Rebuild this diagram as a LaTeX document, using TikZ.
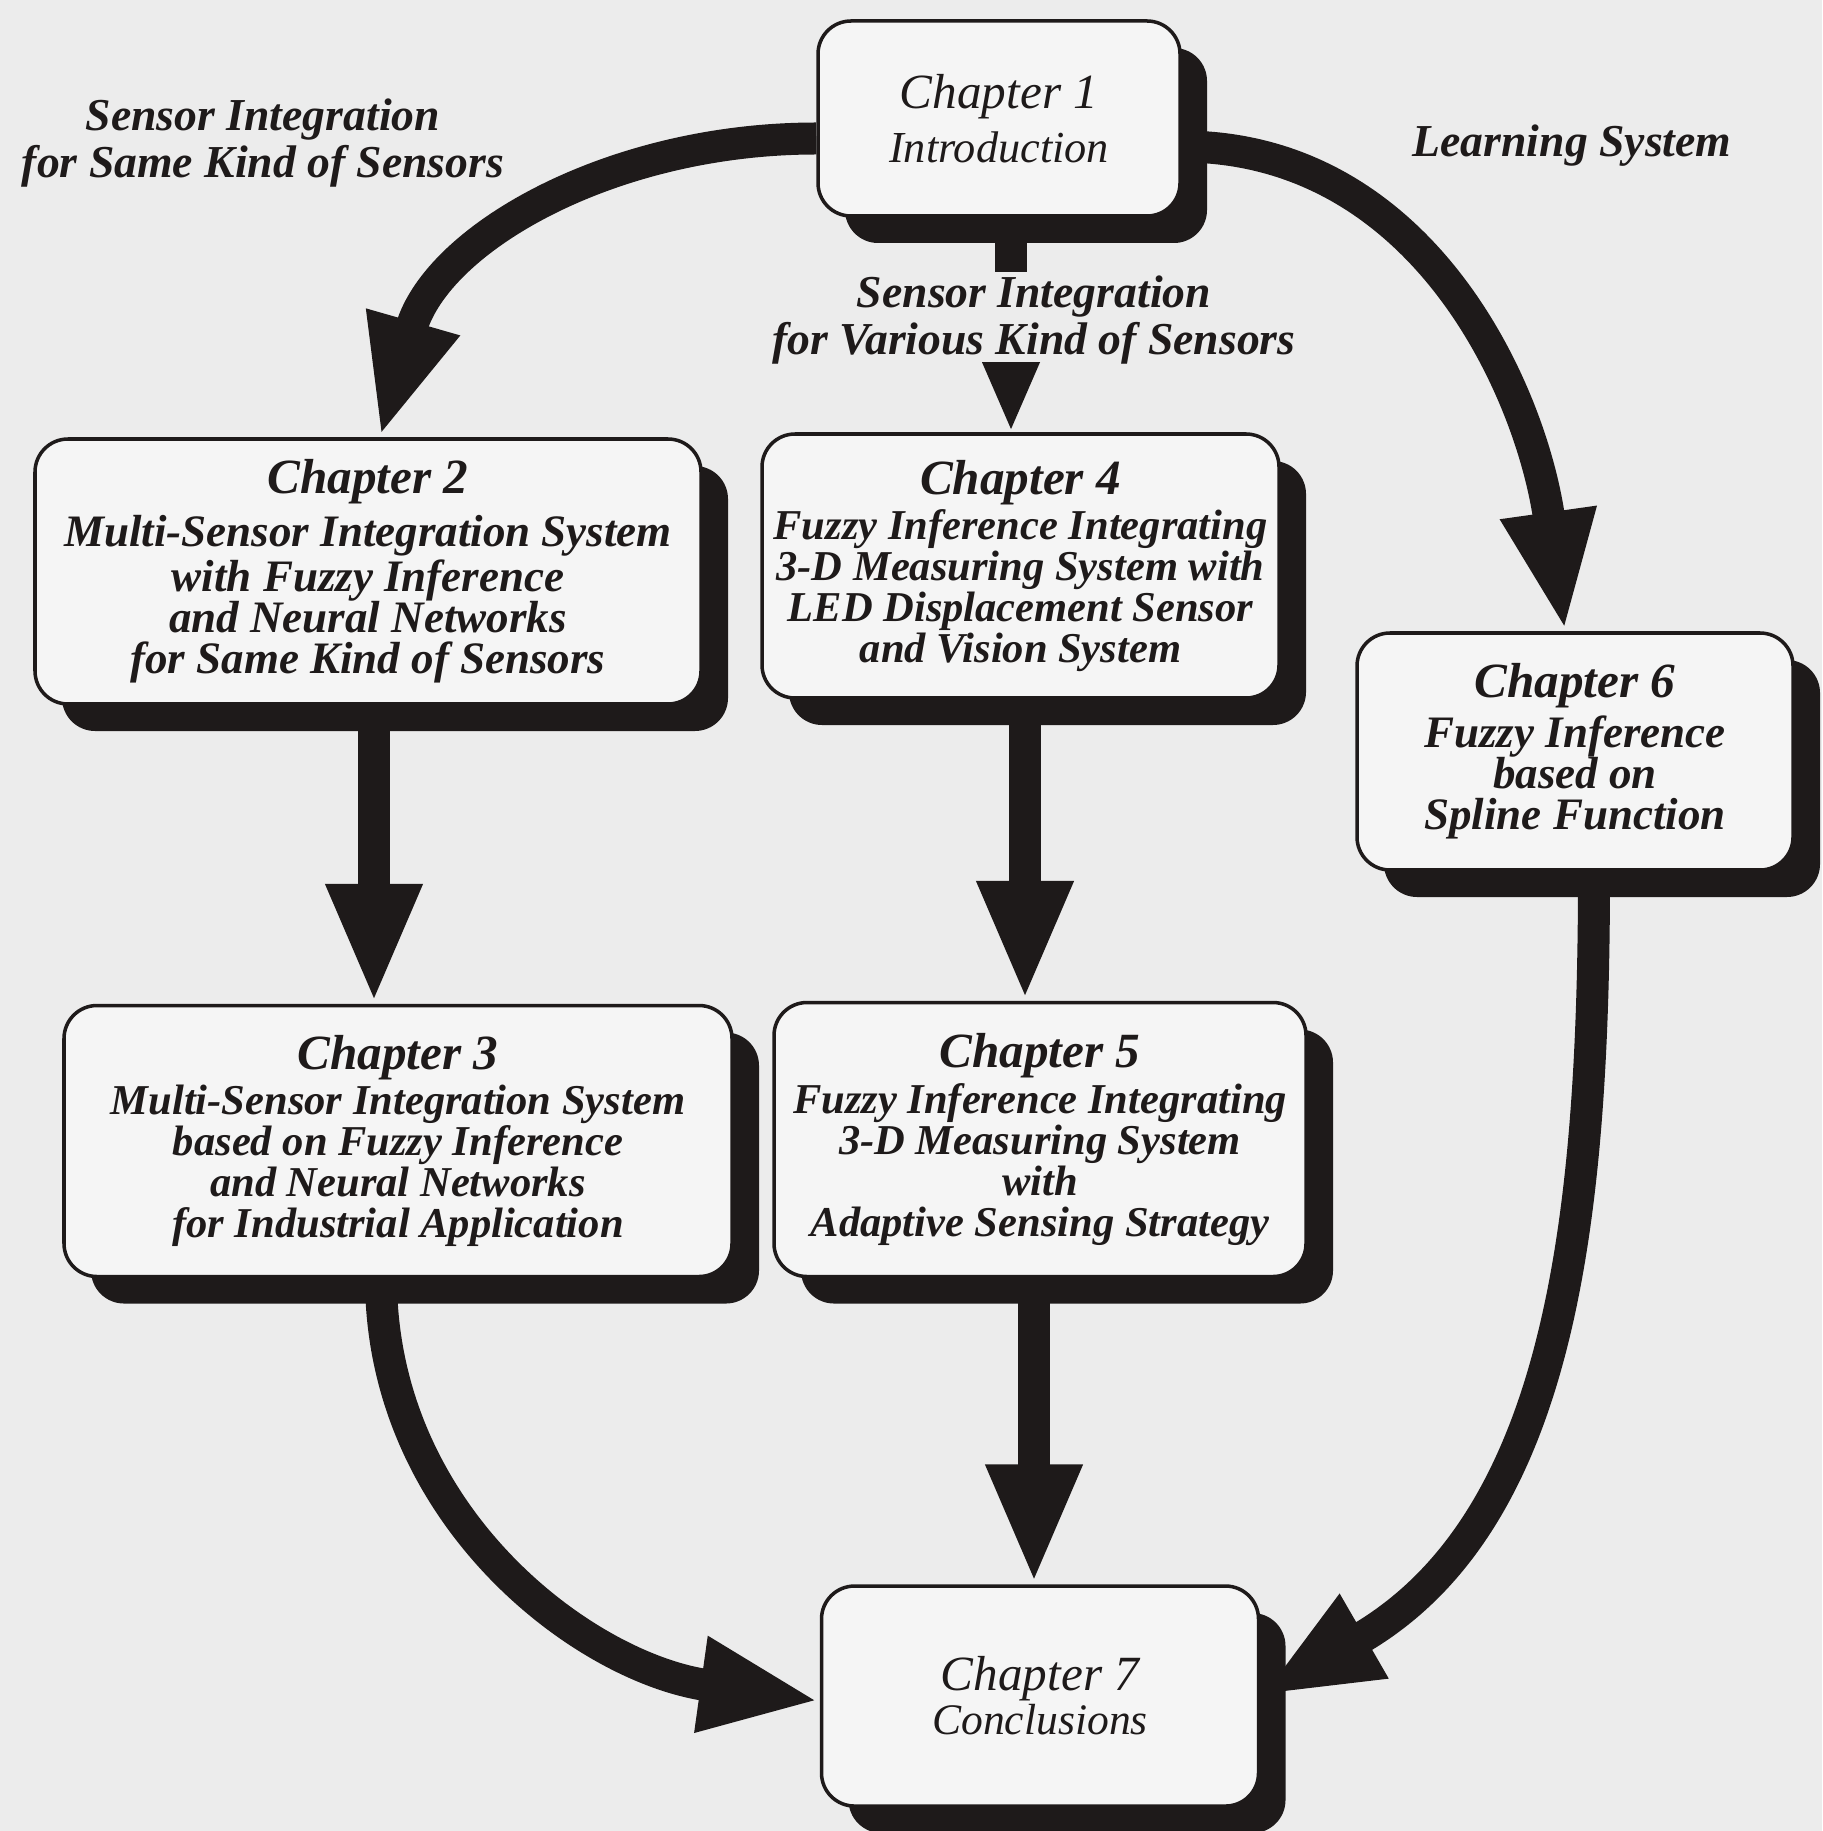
\documentclass[tikz,border=0pt]{standalone}
\usepackage{fontspec}
\setmainfont{Liberation Serif}
\usepackage{xcolor}
\usetikzlibrary{shapes.geometric, arrows.meta}
\usetikzlibrary{positioning, shadows}
\definecolor{paper}{HTML}{ECECEC}
\definecolor{boxfill}{HTML}{F5F5F5}
\definecolor{ink}{HTML}{1E1A1A}
\tikzstyle{chapter} = [rectangle, rounded corners=3.3mm, draw=ink, line width=1pt, fill=boxfill, align=center, inner sep=0pt, text=ink, font=\fontsize{12.8}{11.7}\selectfont\bfseries\itshape, drop shadow={shadow xshift=2.7mm, shadow yshift=-2.7mm, fill=ink, opacity=1}]
\tikzstyle{narrow} = [font=\fontsize{12.1}{11.7}\selectfont\bfseries\itshape]
\tikzstyle{note} = [align=center, text=ink, font=\fontsize{13}{13.4}\selectfont\bfseries\itshape]
\tikzstyle{flow} = [draw=ink, line width=3.2mm]
\tikzstyle{bighead} = [-{Triangle[width=8.8mm, length=12mm]}]
\tikzstyle{smallhead} = [-{Triangle[width=5.2mm, length=7mm]}]
\newcommand{\chno}[1]{{\fontsize{14}{14}\selectfont Chapter #1}}

\begin{document}
\begin{tikzpicture}
  \useasboundingbox (0,0) rectangle (18.22,-18.31);
  \fill[paper] (0,0) rectangle (18.22,-18.31);

  \node[chapter, minimum width=3.62cm, minimum height=1.95cm, font=\fontsize{12.6}{11.7}\selectfont\itshape] (ch1) at (9.99,-1.185) {\chno{1}\\[2.5pt]Introduction};
  \node[chapter, minimum width=6.66cm, minimum height=2.65cm] (ch2) at (3.68,-5.715) {\chno{2}\\[2.2pt]Multi-Sensor Integration System\\with Fuzzy Inference\\and Neural Networks\\for Same Kind of Sensors};
  \node[chapter, narrow, minimum width=5.17cm, minimum height=2.64cm] (ch4) at (10.205,-5.66) {\chno{4}\\[1pt]Fuzzy Inference Integrating\\3-D Measuring System with\\LED Displacement Sensor\\and Vision System};
  \node[chapter, minimum width=4.36cm, minimum height=2.37cm] (ch6) at (15.75,-7.515) {\chno{6}\\[1.2pt]Fuzzy Inference\\based on\\Spline Function};
  \node[chapter, narrow, minimum width=6.68cm, minimum height=2.71cm, below=2.98cm of ch2, xshift=3mm] (ch3) {\chno{3}\\[1pt]Multi-Sensor Integration System\\based on Fuzzy Inference\\and Neural Networks\\for Industrial Application};
  \node[chapter, narrow, minimum width=5.32cm, minimum height=2.74cm, below=3.01cm of ch4, xshift=1.95mm] (ch5) {\chno{5}\\[1.4pt]Fuzzy Inference Integrating\\3-D Measuring System\\with\\Adaptive Sensing Strategy};
  \node[chapter, minimum width=4.37cm, minimum height=2.2cm, below=3.06cm of ch5, font=\fontsize{12.4}{11.7}\selectfont\itshape] (ch7) {\chno{7}\\[0.8pt]Conclusions};

  \node[note] (same) at (2.63,-1.43) {Sensor Integration\\for Same Kind of Sensors};
  \node[note] (learn) at (15.72,-1.46) {Learning System};
  \node[note] (various) at (10.34,-3.2) {Sensor Integration\\for Various Kind of Sensors};
  \coordinate (vtop) at (10.11,-2.72);
  \coordinate (vbot) at (10.11,-3.66);

  % connectors
  \draw[flow, bighead] ([yshift=-2mm]ch1.west) to[out=180, in=74] ([xshift=1.2mm]ch2.north);
  \draw[flow, bighead] ([yshift=-2.8mm]ch1.east) to[out=0, in=98] ([xshift=-1mm]ch6.north);
  \draw[flow] (vtop |- ch1.south) -- (vtop);
  \draw[flow, smallhead] (vbot) -- (vbot |- ch4.north);
  \draw[flow, bighead] ([xshift=0.6mm]ch2.south) -- ([xshift=0.6mm]ch2.south |- ch3.north);
  \draw[flow, bighead] ([xshift=0.45mm]ch4.south) -- ([xshift=0.45mm]ch4.south |- ch5.north);
  \draw[flow, bighead] ([xshift=-0.6mm]ch5.south) -- ([xshift=-0.6mm]ch5.south |- ch7.north);
  \draw[flow, bighead] ([xshift=-1.7mm]ch3.south) to[out=-90, in=172] ([yshift=-0.5mm]ch7.west);
  \draw[flow, bighead] ([xshift=1.9mm]ch6.south) to[out=-90, in=30] (ch7.east);
\end{tikzpicture}
\end{document}
